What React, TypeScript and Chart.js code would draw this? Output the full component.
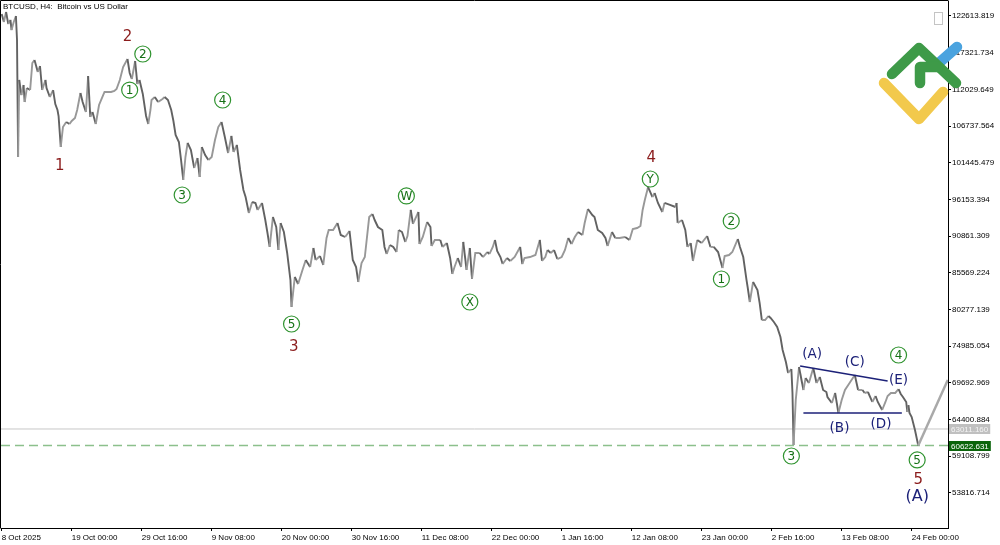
import React, { useEffect, useRef } from 'react';
import { Chart, registerables } from 'chart.js';

Chart.register(...registerables);

// ---------- data ----------
const chartTitle = 'BTCUSD, H4:  Bitcoin vs US Dollar';

// x axis: 4H bar index, labels every 64 bars
const xTickBars = [0, 64, 128, 192, 256, 320, 384, 448, 512, 576, 640, 704, 768, 832];
const xTickLabels = [
  '8 Oct 2025', '19 Oct 00:00', '29 Oct 16:00', '9 Nov 08:00', '20 Nov 00:00', '30 Nov 16:00',
  '11 Dec 08:00', '22 Dec 00:00', '1 Jan 16:00', '12 Jan 08:00', '23 Jan 00:00', '2 Feb 16:00',
  '13 Feb 08:00', '24 Feb 00:00',
];
const xMin = -0.64;
const xMax = 865.2;

const yTickValues = [
  53816.714, 59108.799, 64400.884, 69692.969, 74985.054, 80277.139, 85569.224,
  90861.309, 96153.394, 101445.479, 106737.564, 112029.649, 117321.734, 122613.819,
];
const yMin = 48722;
const yMax = 124778.6;

// price path (bar index, price)
const priceBars = [
  0, 2, 4, 6, 8, 9, 11, 13, 14, 15, 16, 18, 20, 21, 23, 26, 28, 30, 33, 35, 37, 40, 41, 44, 47, 49, 51, 52, 54, 56,
  59, 62, 64, 67, 69, 72, 74, 77, 79, 81, 83, 86, 89, 92, 94, 97, 100, 103, 105, 108, 111, 115, 117, 119, 122, 124,
  126, 129, 132, 134, 136, 137, 140, 143, 147, 149, 152, 155, 157, 159, 162, 164, 166, 168, 170, 173, 176, 179, 181,
  183, 186, 189, 192, 195, 198, 201, 204, 207, 210, 212, 215, 218, 221, 223, 226,
  229, 232, 234, 238, 241, 243, 245, 248, 251, 253, 255, 258, 261, 264, 265, 268, 271, 275, 278, 282, 285, 287, 291,
  294, 297, 299, 303, 307, 310, 314, 318, 321, 324, 326, 329, 332, 334, 336, 339, 341, 344, 348, 350, 352, 355, 358,
  361, 363, 366, 369, 371, 374, 376, 381, 382, 385, 389, 392, 393, 396, 401, 403, 407, 410, 412, 414, 417, 420, 422,
  425, 428, 430, 433, 437,
  440, 444, 446, 449, 451, 453, 456, 458, 462, 465, 469, 474, 476, 478, 483, 488, 492, 494, 497, 499, 502, 505, 508,
  512, 515, 518, 521, 524, 527, 531, 533, 536, 540, 542, 545, 549, 552, 554, 558, 561, 565, 570, 574, 577, 581, 584,
  586, 588, 591, 595, 597, 600, 604, 606, 611, 616, 617, 618, 622, 625, 627, 630, 632, 636, 640, 645, 648, 651, 655,
  659, 661, 665,
  668, 670, 673, 675, 678, 681, 682, 684, 687, 691, 693, 695, 698, 701, 703, 706, 709, 712, 714, 717, 719, 722, 723,
  724, 726, 729, 733, 735, 738, 742, 745, 748, 751, 754, 755, 759, 762, 765, 768, 771, 774, 777, 780, 783, 787, 789,
  792, 796, 799, 801, 805, 808, 810, 813, 817, 820, 822, 824, 827, 828, 829, 830, 832, 835, 838,
];
const priceValues = [
  122900, 121750, 123190, 121460, 122040, 120590, 121750, 122610, 119150, 102260, 113380, 111210, 112660, 110200,
  112220, 111930, 115830, 116260, 114530, 115400, 111930, 113380, 112220, 110920, 111930, 109910, 109050, 108180,
  103710, 106590, 107320, 107030, 107460, 107890, 109050, 111500, 110200, 108760, 113950, 108040, 108760, 107030,
  109770, 110920, 111650, 111650, 111650, 111790, 112080, 113380, 115250, 116410, 114390, 113520, 116120, 112800,
  113380, 111360, 108180, 107030, 109050, 110490, 110920, 110200, 110640, 110920, 110490, 109050, 107460, 105440,
  104430, 101830, 98950, 102260, 104290, 103270, 100680, 102120, 99380, 103710, 102550, 101830, 102260, 104720,
  106590, 107320, 105150, 102840, 105300, 102990, 104000, 100390, 97500, 96490, 94180,
  95770, 95630, 94620, 95630, 93170, 91300, 89280, 93610, 92160, 88840, 92740, 91440, 88410, 84510, 80620, 84950,
  83940, 85960, 87400, 86390, 89130, 87400, 87980, 86680, 90580, 91730, 91730, 92740, 91010, 90720, 91590, 87400,
  86390, 84230, 86970, 87830, 90720, 93610, 94040, 93170, 92160, 91730, 89280, 88270, 89570, 89280, 88550, 91730,
  91440, 90000, 90860, 94620, 92600, 94330, 89710, 90720, 92880, 92160, 89420, 90290, 90290, 89280, 89850, 87690,
  85380, 86390, 87690, 86390, 90000, 85960, 89130, 84660, 88410, 88410,
  87830, 88550, 88270, 89280, 90290, 88700, 87830, 86820, 87690, 87260, 87830, 89280, 86820, 87690, 87830, 88120,
  90290, 87260, 87830, 88840, 88410, 88840, 87540, 87830, 88840, 90580, 89710, 90720, 91440, 91010, 92740, 94760,
  93890, 93610, 91730, 91300, 90580, 89420, 91440, 90580, 90580, 90720, 90290, 91870, 92020, 92310, 94620, 96060,
  97930, 96490, 97070, 95630, 94330, 95630, 95340, 95050, 95630, 92740, 93170, 91730, 89280, 89850, 87260, 90290,
  89850, 90860, 89280, 89280, 88550, 86250, 87980, 88120,
  88550, 89280, 90430, 89280, 87830, 84510, 83500, 81340, 84230, 83070, 81190, 78740, 78740, 79320, 79030, 78450,
  77730, 76290, 74410, 72680, 71090, 71670, 68210, 60700, 67200, 71960, 68640, 70370, 69650, 71810, 69650, 70510,
  68640, 68350, 67630, 66760, 68210, 65320, 67200, 68640, 69360, 70080, 70800, 68640, 68640, 68210, 68350, 66910,
  67770, 66910, 65750, 66910, 67770, 68210, 68210, 68780, 68060, 67630, 66910, 65460, 66470, 65320, 64740, 62870,
  60622.631,
];

const bidPrice = 63011.16;
const lowPrice = 60622.631;

const projectionBars = [838, 865];
const projectionValues = [60622.631, 70080];

const triUpperBars = [730, 810];
const triUpperValues = [72100, 69940];
const triLowerBars = [733, 823];
const triLowerValues = [65320, 65320];

const circleLabels = ['1', '2', '3', '4', '5', 'W', 'X', 'Y', '2', '1', '3', '4', '5'];
const circleBars = [117, 129, 165, 202, 265, 370, 428, 593, 667, 658, 722, 820, 837];
const circlePrices = [111930, 117130, 96780, 110490, 78160, 96640, 81340, 99090, 93030, 84660, 59110, 73690, 58540];

const redLabels = ['1', '2', '3', '4', '5'];
const redBars = [53, 115, 267, 594, 838];
const redPrices = [100970, 119580, 74840, 102120, 55650];

const navyLabels = ['(A)', '(B)', '(C)', '(D)', '(E)'];
const navyBars = [741, 766, 780, 804, 820];
const navyPrices = [73690, 63150, 72540, 63730, 69940];

const degreeLabel = '(A)';
const degreeBar = 837;
const degreePrice = 53200;

// ---------- styling ----------
const axisFamily = "'Liberation Sans', Arial, sans-serif";
const axisSize = 8;
const labelFamily = "'DejaVu Sans', sans-serif";

const toPts = (xs: number[], ys: number[]) => xs.map((x, i) => ({ x, y: ys[i] }));

const overlayPlugin = {
  id: 'overlay',
  afterDatasetsDraw(chart: any) {
    const { ctx, scales } = chart;
    const xs = scales.x;
    const ys = scales.y;
    ctx.save();
    ctx.textAlign = 'center';
    ctx.textBaseline = 'middle';

    circleLabels.forEach((t, i) => {
      const cx = xs.getPixelForValue(circleBars[i]);
      const cy = ys.getPixelForValue(circlePrices[i]);
      ctx.beginPath();
      ctx.arc(cx, cy, 8, 0, Math.PI * 2);
      ctx.strokeStyle = '#2f932f';
      ctx.lineWidth = 1.2;
      ctx.stroke();
      ctx.fillStyle = '#157015';
      ctx.font = `12px ${labelFamily}`;
      ctx.fillText(t, cx, cy + 0.5);
    });

    ctx.fillStyle = '#8b1c1c';
    ctx.font = `15px ${labelFamily}`;
    redLabels.forEach((t, i) => {
      ctx.fillText(t, xs.getPixelForValue(redBars[i]), ys.getPixelForValue(redPrices[i]));
    });

    ctx.fillStyle = '#1c2178';
    ctx.font = `13.5px ${labelFamily}`;
    navyLabels.forEach((t, i) => {
      ctx.fillText(t, xs.getPixelForValue(navyBars[i]), ys.getPixelForValue(navyPrices[i]));
    });
    ctx.font = `16px ${labelFamily}`;
    ctx.fillText(degreeLabel, xs.getPixelForValue(degreeBar), ys.getPixelForValue(degreePrice));
    ctx.restore();
  },
  afterDraw(chart: any) {
    const { ctx, chartArea: a, scales } = chart;
    const ys = scales.y;
    ctx.save();

    // frame (left & top)
    ctx.strokeStyle = '#000';
    ctx.lineWidth = 1;
    ctx.beginPath();
    ctx.moveTo(0.5, a.bottom + 0.5);
    ctx.lineTo(0.5, 0.5);
    ctx.lineTo(a.right + 0.5, 0.5);
    ctx.stroke();

    // title
    ctx.fillStyle = '#000';
    ctx.font = `${axisSize}px ${axisFamily}`;
    ctx.textAlign = 'left';
    ctx.textBaseline = 'top';
    ctx.fillText(chartTitle, 3, 3);

    // price boxes on the axis
    const priceBox = (value: number, bg: string, fg: string) => {
      const py = Math.round(ys.getPixelForValue(value));
      const text = value.toFixed(3);
      ctx.font = `${axisSize}px ${axisFamily}`;
      const w = ctx.measureText(text).width;
      ctx.fillStyle = bg;
      ctx.fillRect(a.right + 1, py - 5, w + 4, 10);
      ctx.fillStyle = fg;
      ctx.textAlign = 'left';
      ctx.textBaseline = 'middle';
      ctx.fillText(text, a.right + 3, py + 0.5);
    };
    priceBox(bidPrice, '#c0c0c0', '#f4f4f4');
    priceBox(lowPrice, '#0b640b', '#ffffff');

    // small button top-right
    ctx.strokeStyle = '#c4c4c4';
    ctx.strokeRect(a.right - 13.5, a.top + 11.5, 8, 12);

    // logo
    const ox = a.right;
    const oy = a.top;
    ctx.lineCap = 'round';
    ctx.lineJoin = 'round';
    ctx.lineWidth = 10.5;
    ctx.strokeStyle = '#4aa3df';
    ctx.beginPath();
    ctx.moveTo(ox - 8, oy + 61);
    ctx.lineTo(ox + 9, oy + 46);
    ctx.stroke();
    ctx.strokeStyle = '#f2c94c';
    ctx.beginPath();
    ctx.moveTo(ox - 64, oy + 82);
    ctx.lineTo(ox - 29, oy + 118);
    ctx.lineTo(ox - 5, oy + 91);
    ctx.stroke();
    ctx.strokeStyle = '#3e9a48';
    ctx.beginPath();
    ctx.moveTo(ox - 56, oy + 73);
    ctx.lineTo(ox - 29, oy + 47);
    ctx.lineTo(ox + 8, oy + 82);
    ctx.stroke();
    ctx.beginPath();
    ctx.moveTo(ox - 10, oy + 66);
    ctx.lineTo(ox - 28, oy + 66);
    ctx.lineTo(ox - 28, oy + 82);
    ctx.stroke();

    ctx.restore();
  },
};

export default function App() {
  const ref = useRef<HTMLCanvasElement>(null);

  useEffect(() => {
    document.body.style.margin = '0';
    const canvas = ref.current!;
    const chart = new Chart(canvas, {
      type: 'line',
      data: {
        datasets: [
          {
            label: 'triangle upper',
            data: toPts(triUpperBars, triUpperValues),
            borderColor: '#1c2178',
            borderWidth: 1.5,
            pointRadius: 0,
            order: 1,
          },
          {
            label: 'triangle lower',
            data: toPts(triLowerBars, triLowerValues),
            borderColor: '#1c2178',
            borderWidth: 1.5,
            pointRadius: 0,
            order: 1,
          },
          {
            label: 'projection',
            data: toPts(projectionBars, projectionValues),
            borderColor: '#a9a9a9',
            borderWidth: 2.5,
            pointRadius: 0,
            order: 2,
          },
          {
            label: 'BTCUSD',
            data: toPts(priceBars, priceValues),
            borderWidth: 1.9,
            borderColor: '#7a7a7a',
            pointRadius: 0,
            tension: 0,
            order: 3,
            segment: {
              borderColor: (c: any) => (c.p1.parsed.y >= c.p0.parsed.y ? '#989898' : '#626262'),
            },
          },
          {
            label: 'bid',
            data: toPts([xMin, xMax], [bidPrice, bidPrice]),
            borderColor: '#c8c8c8',
            borderWidth: 1,
            pointRadius: 0,
            order: 5,
          },
          {
            label: 'low',
            data: toPts([xMin, xMax], [lowPrice, lowPrice]),
            borderColor: '#8cc08c',
            borderWidth: 1.5,
            borderDash: [9, 5],
            pointRadius: 0,
            order: 4,
          },
        ],
      },
      options: {
        animation: false,
        responsive: false,
        events: [],
        layout: { padding: { top: 1, left: 1, right: 0, bottom: 0 } },
        plugins: {
          legend: { display: false },
          tooltip: { enabled: false },
          title: { display: false },
        },
        scales: {
          x: {
            type: 'linear',
            position: 'bottom',
            min: xMin,
            max: xMax,
            afterBuildTicks: (s: any) => {
              s.ticks = xTickBars.map((v) => ({ value: v }));
            },
            afterFit: (s: any) => {
              s.height = 17;
              s.paddingLeft = 0;
              s.paddingRight = 0;
            },
            grid: { display: true, drawOnChartArea: false, drawTicks: true, tickLength: 3, color: '#000' },
            border: { display: true, color: '#000', width: 1 },
            ticks: {
              autoSkip: false,
              maxRotation: 0,
              align: 'start',
              padding: 2,
              color: '#000',
              font: { family: axisFamily, size: axisSize },
              callback: (v: any) => {
                const i = xTickBars.indexOf(Number(v));
                return i >= 0 ? xTickLabels[i] : '';
              },
            },
          },
          y: {
            type: 'linear',
            position: 'right',
            min: yMin,
            max: yMax,
            afterBuildTicks: (s: any) => {
              s.ticks = yTickValues.map((v) => ({ value: v }));
            },
            afterFit: (s: any) => {
              s.width = 52;
              s.paddingTop = 0;
              s.paddingBottom = 0;
            },
            grid: { display: true, drawOnChartArea: false, drawTicks: true, tickLength: 3, color: '#000' },
            border: { display: true, color: '#000', width: 1 },
            ticks: {
              autoSkip: false,
              padding: 1,
              color: '#000',
              font: { family: axisFamily, size: axisSize },
              callback: (v: any) => Number(v).toFixed(3),
            },
          },
        },
      } as any,
      plugins: [overlayPlugin],
    });
    return () => chart.destroy();
  }, []);

  return (
    <div style={{ position: 'absolute', left: 0, top: 0, width: 1000, height: 545, background: '#fff' }}>
      <canvas ref={ref} width={1000} height={545} style={{ display: 'block', width: 1000, height: 545 }} />
    </div>
  );
}
